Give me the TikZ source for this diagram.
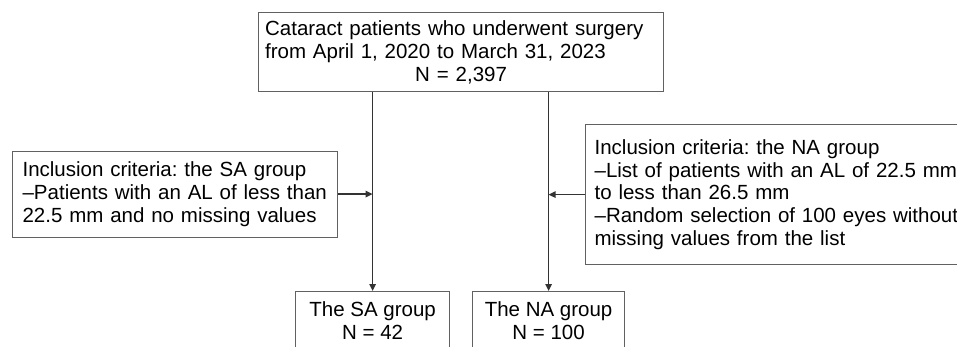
\documentclass[tikz,border=0pt]{standalone}
\usepackage{fontspec}
\setmainfont{Liberation Sans}
\usetikzlibrary{arrows.meta}
\frenchspacing
\tikzset{
  box/.style={draw=black!62, line width=1.2pt, rectangle, anchor=north west,
    inner ysep=0pt, font=\frenchspacing\fontsize{20.5}{22.8}\selectfont, text=black},
  arr/.style={draw=black!80, line width=1.3pt, -{Triangle[length=7pt,width=6.5pt]}},
}
\begin{document}
\begin{tikzpicture}[x=1pt,y=-1pt]
\useasboundingbox (0,0) rectangle (957,346);
\clip (0,0) rectangle (957,346);
\node[box, inner xsep=6.5pt, text width=392pt, minimum height=79pt, align=left] (top) at (258,12)
  {\makebox[392pt][s]{Cataract patients who underwent surgery}\\from April 1, 2020 to March 31, 2023\\\makebox[392pt]{N = 2,397}};
\node[box, inner xsep=10pt, text width=305pt, minimum height=86pt, align=left] (critsa) at (12,150.5)
  {Inclusion criteria: the SA group\\–Patients with an AL of less than\\22.5 mm and no missing values};
\node[box, inner xsep=9pt, text width=390pt, minimum height=140pt, align=left] (critna) at (585,124)
  {Inclusion criteria: the NA group\\–List of patients with an AL of 22.5 mm\\to less than 26.5 mm\\–Random selection of 100 eyes without\\missing values from the list};
\node[box, minimum width=154pt, minimum height=58pt, align=center] (sa) at (295,291)
  {The SA group\\N = 42};
\node[box, minimum width=152pt, minimum height=58pt, align=center] (na) at (472,291)
  {The NA group\\N = 100};
\draw[arr] (top.south -| sa.north) -- (sa.north);
\draw[arr] (top.south -| na.north) -- (na.north);
\draw[arr] (critsa.east) -- (critsa.east -| sa.north);
\draw[arr] (critna.west) -- (critna.west -| na.north);
\end{tikzpicture}
\end{document}
